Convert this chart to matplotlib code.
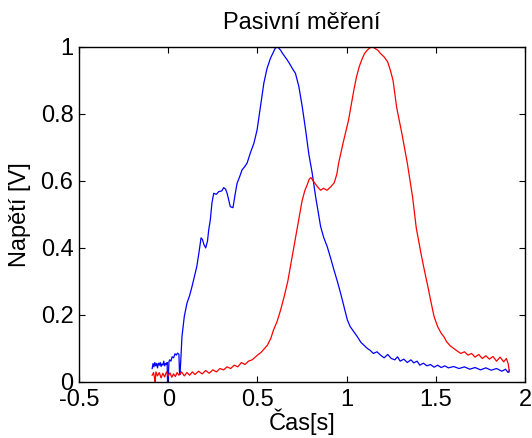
import matplotlib
matplotlib.use("Agg")
import matplotlib.pyplot as plt
from matplotlib.ticker import FuncFormatter

# blue trace (cas [s], napeti [V])
t_blue = [-0.090, -0.085, -0.080, -0.075, -0.070, -0.065, -0.060, -0.055, -0.050, -0.045,
          -0.040, -0.035, -0.030, -0.025, -0.020, -0.015, -0.010, -0.006, -0.004, 0.000,
          0.004, 0.008, 0.015, 0.022, 0.030, 0.038, 0.045, 0.052, 0.060, 0.063,
          0.066, 0.070, 0.077, 0.090, 0.105, 0.120, 0.133, 0.147, 0.160, 0.172,
          0.184, 0.192, 0.200, 0.210, 0.220, 0.227, 0.236, 0.245, 0.255, 0.270,
          0.283, 0.300, 0.311, 0.322, 0.330, 0.340, 0.348, 0.363, 0.375, 0.386,
          0.400, 0.414, 0.428, 0.442, 0.460, 0.480, 0.498, 0.508, 0.517, 0.536,
          0.554, 0.573, 0.590, 0.600, 0.610, 0.620, 0.630, 0.640, 0.655, 0.667,
          0.680, 0.695, 0.713, 0.732, 0.751, 0.770, 0.788, 0.807, 0.826, 0.854,
          0.872, 0.891, 0.910, 0.929, 0.948, 0.966, 0.985, 1.004, 1.020, 1.040,
          1.060, 1.080, 1.100, 1.116, 1.130, 1.150, 1.170, 1.190, 1.210, 1.230,
          1.250, 1.270, 1.285, 1.300, 1.320, 1.340, 1.360, 1.376, 1.395, 1.410,
          1.430, 1.450, 1.470, 1.490, 1.510, 1.530, 1.550, 1.570, 1.600, 1.630,
          1.660, 1.690, 1.720, 1.750, 1.780, 1.810, 1.840, 1.870, 1.890, 1.905,
          1.912]
v_blue = [0.040, 0.055, 0.045, 0.058, 0.048, 0.055, 0.042, 0.056, 0.050, 0.058,
          0.046, 0.054, 0.050, 0.062, 0.048, 0.055, 0.052, 0.058, 0.000, 0.010,
          0.060, 0.066, 0.062, 0.075, 0.072, 0.084, 0.080, 0.086, 0.082, 0.030,
          0.022, 0.060, 0.135, 0.195, 0.235, 0.258, 0.284, 0.315, 0.344, 0.385,
          0.430, 0.425, 0.410, 0.400, 0.420, 0.454, 0.484, 0.534, 0.563, 0.560,
          0.568, 0.570, 0.580, 0.575, 0.563, 0.540, 0.523, 0.520, 0.560, 0.593,
          0.612, 0.633, 0.642, 0.653, 0.683, 0.712, 0.752, 0.790, 0.822, 0.892,
          0.936, 0.966, 0.985, 0.996, 1.000, 0.996, 0.990, 0.981, 0.970, 0.961,
          0.950, 0.936, 0.921, 0.882, 0.822, 0.752, 0.680, 0.623, 0.553, 0.464,
          0.430, 0.404, 0.370, 0.334, 0.300, 0.265, 0.225, 0.185, 0.165, 0.150,
          0.135, 0.118, 0.108, 0.100, 0.095, 0.085, 0.090, 0.080, 0.072, 0.082,
          0.070, 0.066, 0.075, 0.062, 0.068, 0.058, 0.066, 0.057, 0.062, 0.050,
          0.056, 0.048, 0.052, 0.044, 0.050, 0.043, 0.048, 0.042, 0.046, 0.040,
          0.045, 0.038, 0.043, 0.036, 0.042, 0.035, 0.040, 0.032, 0.038, 0.028,
          0.036]

# red trace
t_red = [-0.090, -0.082, -0.077, -0.073, -0.069, -0.060, -0.050, -0.040, -0.030, -0.020,
         -0.010, 0.000, 0.010, 0.020, 0.030, 0.040, 0.050, 0.060, 0.075, 0.090,
         0.105, 0.120, 0.135, 0.150, 0.170, 0.190, 0.210, 0.230, 0.250, 0.270,
         0.290, 0.310, 0.330, 0.350, 0.370, 0.390, 0.410, 0.430, 0.450, 0.470,
         0.490, 0.500, 0.520, 0.540, 0.556, 0.575, 0.590, 0.610, 0.630, 0.650,
         0.670, 0.685, 0.700, 0.715, 0.730, 0.750, 0.765, 0.780, 0.790, 0.800,
         0.812, 0.826, 0.840, 0.854, 0.870, 0.890, 0.910, 0.930, 0.945, 0.955,
         0.980, 1.010, 1.040, 1.055, 1.070, 1.085, 1.100, 1.115, 1.130, 1.145,
         1.160, 1.175, 1.190, 1.210, 1.230, 1.245, 1.260, 1.280, 1.310, 1.340,
         1.370, 1.390, 1.416, 1.435, 1.455, 1.472, 1.490, 1.510, 1.530, 1.545,
         1.560, 1.580, 1.600, 1.620, 1.640, 1.660, 1.680, 1.700, 1.720, 1.740,
         1.760, 1.780, 1.800, 1.820, 1.840, 1.860, 1.880, 1.895, 1.905, 1.912]
v_red = [0.020, 0.028, 0.012, 0.000, 0.030, 0.018, 0.028, 0.012, 0.026, 0.015,
         0.030, 0.018, 0.027, 0.014, 0.024, 0.016, 0.028, 0.020, 0.030, 0.018,
         0.028, 0.020, 0.030, 0.022, 0.032, 0.024, 0.034, 0.026, 0.036, 0.030,
         0.040, 0.036, 0.045, 0.040, 0.050, 0.045, 0.058, 0.052, 0.062, 0.066,
         0.075, 0.080, 0.088, 0.100, 0.110, 0.130, 0.155, 0.180, 0.215, 0.255,
         0.300, 0.345, 0.390, 0.435, 0.480, 0.540, 0.570, 0.590, 0.605, 0.610,
         0.600, 0.590, 0.580, 0.572, 0.578, 0.572, 0.582, 0.594, 0.620, 0.653,
         0.713, 0.780, 0.870, 0.910, 0.940, 0.962, 0.980, 0.990, 0.997, 1.000,
         0.995, 0.990, 0.980, 0.970, 0.955, 0.930, 0.900, 0.820, 0.740, 0.653,
         0.550, 0.460, 0.385, 0.335, 0.285, 0.240, 0.195, 0.165, 0.145, 0.135,
         0.120, 0.108, 0.100, 0.092, 0.085, 0.090, 0.080, 0.085, 0.074, 0.082,
         0.070, 0.078, 0.068, 0.076, 0.062, 0.074, 0.060, 0.070, 0.055, 0.030]

x_ticks = [-0.5, 0, 0.5, 1, 1.5, 2]
y_ticks = [0, 0.2, 0.4, 0.6, 0.8, 1]

plt.rcParams['font.family'] = ['Liberation Sans', 'DejaVu Sans']
plt.rcParams['font.size'] = 17
plt.rcParams['axes.unicode_minus'] = False

fig = plt.figure(figsize=(5.32, 4.38), dpi=100)
ax = fig.add_axes([0.1485, 0.128, 0.8385, 0.765])

ax.plot(t_blue, v_blue, color='#0000ff', lw=0.9)
ax.plot(t_red, v_red, color='#ff0000', lw=0.9)

ax.set_xlim(-0.5, 2)
ax.set_ylim(0, 1)
ax.set_xticks(x_ticks)
ax.set_yticks(y_ticks)
fmt = FuncFormatter(lambda v, p: '%g' % v)
ax.xaxis.set_major_formatter(fmt)
ax.yaxis.set_major_formatter(fmt)
ax.tick_params(direction='in', top=True, right=True, length=4, width=0.8)
ax.tick_params(axis='x', pad=5)
ax.tick_params(axis='y', pad=4)
for s in ax.spines.values():
    s.set_linewidth(1.0)

ax.set_title('Pasivní měření', fontsize=17, pad=13)
ax.set_xlabel('Čas[s]', labelpad=-2)
ax.set_ylabel('Napětí [V]', labelpad=7)

fig.savefig('out.png', dpi=100)
